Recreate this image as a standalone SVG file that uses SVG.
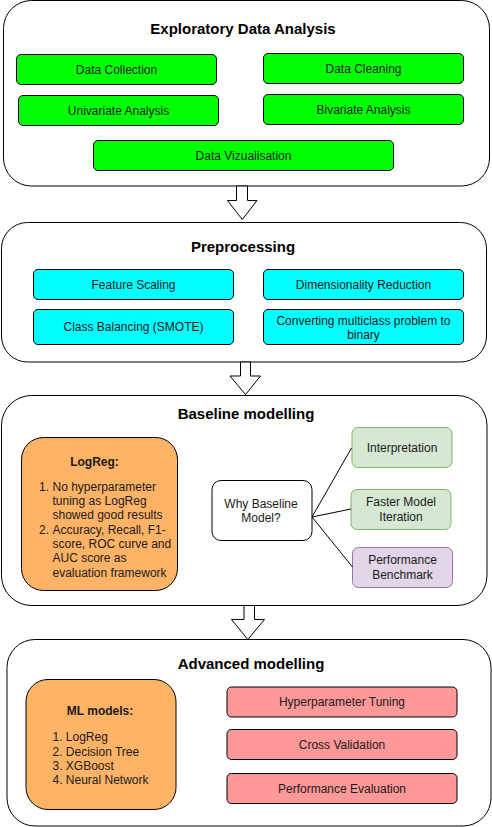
<svg xmlns="http://www.w3.org/2000/svg" width="492" height="827" viewBox="0 0 492 827">
<style>
text{font-family:"Liberation Sans",Arial,sans-serif;font-size:12px;fill:#1a1a1a}
.title{font-size:15px;font-weight:bold;fill:#000;text-anchor:middle}
.c{text-anchor:middle}
.b{font-weight:bold}
.sec{fill:#fff;stroke:#000;stroke-width:1}
.green{fill:#00ff00;stroke:#000;stroke-width:1}
.cyan{fill:#00ffff;stroke:#000;stroke-width:1}
.orange{fill:#ffb366;stroke:#000;stroke-width:1}
.lgreen{fill:#d5e8d4;stroke:#82b366;stroke-width:1}
.lpurple{fill:#e1d5e7;stroke:#9673a6;stroke-width:1}
.pink{fill:#ff9999;stroke:#000;stroke-width:1}
.white{fill:#fff;stroke:#000;stroke-width:1}
.arrow{fill:#fff;stroke:#000;stroke-width:1}
.edge{fill:none;stroke:#000;stroke-width:1}
</style>

<g id="eda">
<rect class="sec" x="3.5" y="0.5" width="486" height="185.5" rx="28"/>
<text class="title" x="243" y="34">Exploratory Data Analysis</text>
</g>
<g id="data-collection"><rect class="green" x="16.5" y="54.5" width="200" height="30" rx="4.5"/><text class="c" x="116.5" y="73.5">Data Collection</text></g>
<g id="data-cleaning"><rect class="green" x="263.5" y="53.5" width="200" height="30" rx="4.5"/><text class="c" x="363.5" y="72.5">Data Cleaning</text></g>
<g id="univariate"><rect class="green" x="18.5" y="95.5" width="200" height="30" rx="4.5"/><text class="c" x="118.5" y="114.5">Univariate Analysis</text></g>
<g id="bivariate"><rect class="green" x="263.5" y="94.5" width="200" height="30" rx="4.5"/><text class="c" x="363.5" y="113.5">Bivariate Analysis</text></g>
<g id="data-viz"><rect class="green" x="93.5" y="140.5" width="300" height="30" rx="4.5"/><text class="c" x="243.5" y="159.5">Data Vizualisation</text></g>

<g id="preprocessing">
<rect class="sec" x="1.5" y="222.5" width="485" height="139.5" rx="26"/>
<text class="title" x="243" y="252">Preprocessing</text>
</g>
<g id="feature-scaling"><rect class="cyan" x="33.5" y="269.5" width="200" height="30" rx="4.5"/><text class="c" x="133.5" y="288.5">Feature Scaling</text></g>
<g id="dim-reduction"><rect class="cyan" x="263.5" y="269.5" width="200" height="30" rx="4.5"/><text class="c" x="363.5" y="288.5">Dimensionality Reduction</text></g>
<g id="class-balancing"><rect class="cyan" x="33.5" y="309.5" width="200" height="35" rx="4.5"/><text class="c" x="133.5" y="331">Class Balancing (SMOTE)</text></g>
<g id="multiclass"><rect class="cyan" x="263.5" y="309.5" width="200" height="35" rx="4.5"/><text class="c" x="363.5" y="324.5">Converting multiclass problem to</text><text class="c" x="363.5" y="339">binary</text></g>

<g id="baseline">
<rect class="sec" x="1.5" y="395.5" width="485.5" height="210" rx="30"/>
<text class="title" x="246" y="419">Baseline modelling</text>
</g>
<g id="logreg">
<rect class="orange" x="21.5" y="437.5" width="156" height="153" rx="22"/>
<text class="c b" x="94.5" y="466">LogReg:</text>
<text x="39" y="490.5">1.</text>
<text x="52.5" y="490.5">No hyperparameter</text>
<text x="52.5" y="504.5">tuning as LogReg</text>
<text x="52.5" y="518.5">showed good results</text>
<text x="39" y="534">2.</text>
<text x="52.5" y="534">Accuracy, Recall, F1-</text>
<text x="52.5" y="548">score, ROC curve and</text>
<text x="52.5" y="562">AUC score as</text>
<text x="52.5" y="576.5">evaluation framework</text>
</g>
<g id="why-baseline"><rect class="white" x="212" y="480.5" width="100" height="60" rx="9"/><text class="c" x="261" y="507.5">Why Baseline</text><text class="c" x="261" y="522">Model?</text></g>
<g id="interpretation"><rect class="lgreen" x="352" y="427.5" width="100" height="40" rx="6"/><text class="c" x="402" y="451.5">Interpretation</text></g>
<g id="faster-iteration"><rect class="lgreen" x="351" y="489.5" width="100" height="40" rx="6"/><text class="c" x="401" y="506">Faster Model</text><text class="c" x="401" y="520.5">Iteration</text></g>
<g id="benchmark"><rect class="lpurple" x="352.5" y="547.5" width="100" height="40" rx="6"/><text class="c" x="402.5" y="564">Performance</text><text class="c" x="402.5" y="578.5">Benchmark</text></g>

<g id="advanced">
<rect class="sec" x="7" y="639.5" width="484" height="186.5" rx="28"/>
<text class="title" x="251" y="669">Advanced modelling</text>
</g>
<g id="ml-models">
<rect class="orange" x="26" y="679.5" width="150" height="130" rx="22"/>
<text class="c b" x="100" y="715">ML models:</text>
<text x="52.5" y="741">1. LogReg</text>
<text x="52.5" y="755.5">2. Decision Tree</text>
<text x="52.5" y="769.5">3. XGBoost</text>
<text x="52.5" y="783.5">4. Neural Network</text>
</g>
<g id="hyperparameter"><rect class="pink" x="227" y="687" width="230" height="30" rx="4.5"/><text class="c" x="342" y="706">Hyperparameter Tuning</text></g>
<g id="cross-validation"><rect class="pink" x="227" y="729.5" width="230" height="30" rx="4.5"/><text class="c" x="342" y="748.5">Cross Validation</text></g>
<g id="perf-eval"><rect class="pink" x="227" y="773.5" width="230" height="30" rx="4.5"/><text class="c" x="342" y="792.5">Performance Evaluation</text></g>

<g id="connectors">
<polygon class="arrow" points="236.5,186 247.5,186 247.5,200.5 257,200.5 242.3,219.5 227.5,200.5 236.5,200.5"/>
<polygon class="arrow" points="240.5,362 250.5,362 250.5,376 260.5,376 245.5,394.5 230,376 240.5,376"/>
<polygon class="arrow" points="244,605.5 254.5,605.5 254.5,619.5 264.5,619.5 247.8,639.5 231.5,619.5 244,619.5"/>
<path class="edge" d="M312,517 L351.5,448"/>
<path class="edge" d="M312,517 L351,509"/>
<path class="edge" d="M312,517 L352.5,567"/>
</g>
</svg>
